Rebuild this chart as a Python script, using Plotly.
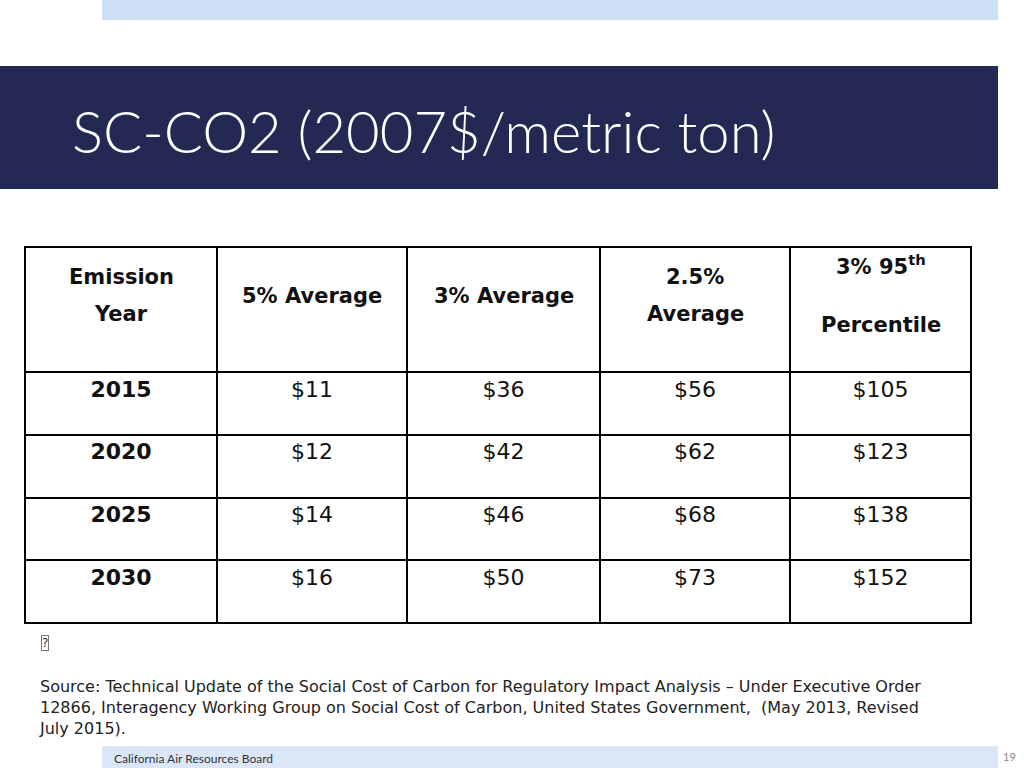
import plotly.graph_objects as go

years = ["2015", "2020", "2025", "2030"]
avg_5 = ["$11", "$12", "$14", "$16"]
avg_3 = ["$36", "$42", "$46", "$50"]
avg_25 = ["$56", "$62", "$68", "$73"]
pct95_3 = ["$105", "$123", "$138", "$152"]

headers = [["Emission", "Year"], ["5% Average"], ["3% Average"], ["2.5%", "Average"],
           ["3% 95<sup>th</sup>", "Percentile"]]
col_widths = [192, 190, 193, 190, 181]

title = "SC-CO2 (2007$/metric ton)"
source_lines = [
    "Source: Technical Update of the Social Cost of Carbon for Regulatory Impact Analysis \u2013 Under Executive Order",
    "12866, Interagency Working Group on Social Cost of Carbon, United States Government,  (May 2013, Revised",
    "July 2015).",
]
footer = "California Air Resources Board"
page = "19"

W, H = 1024, 768
tx0, tx1, ty0, ty1 = 25, 971, 247, 624
head_h, row_h = 125, 62.75

# vertical centres of header lines, measured from the table top
header_line_y = [[30, 67], [49], [49], [30, 67], [18, 78]]

fig = go.Figure()

fig.add_trace(go.Table(
    domain=dict(x=[tx0 / W, tx1 / W], y=[1 - (ty1 + 4) / H, 1 - ty0 / H]),
    columnwidth=col_widths,
    header=dict(values=[""] * 5, height=head_h, fill_color="white",
                line=dict(color="black", width=2)),
    cells=dict(values=[years, avg_5, avg_3, avg_25, pct95_3], height=row_h,
               align="center", fill_color="white",
               line=dict(color="black", width=2),
               font=dict(family="DejaVu Sans", size=22, color="#111111",
                         weight=["bold", "normal", "normal", "normal", "normal"])),
))

fig.update_xaxes(range=[0, W], visible=False, fixedrange=True)
fig.update_yaxes(range=[H, 0], visible=False, fixedrange=True)

# header labels over the header row
scale = (tx1 - tx0) / sum(col_widths)
x = tx0
for lines, ys, w in zip(headers, header_line_y, col_widths):
    for line, yy in zip(lines, ys):
        fig.add_annotation(x=x + w * scale / 2, y=ty0 + yy, xref="x", yref="y",
                           text="<b>%s</b>" % line, showarrow=False,
                           font=dict(family="DejaVu Sans", size=21, color="#111111"),
                           xanchor="center", yanchor="middle")
    x += w * scale

fig.add_shape(type="rect", x0=102, x1=998, y0=0, y1=20, fillcolor="#cddff5", line_width=0, layer="below")
fig.add_shape(type="rect", x0=0, x1=998, y0=66, y1=189, fillcolor="#232953", line_width=0, layer="below")
fig.add_shape(type="rect", x0=102, x1=998, y0=746, y1=768, fillcolor="#dbe7f8", line_width=0, layer="below")

fig.add_annotation(x=70, y=130, xref="x", yref="y", text=title, showarrow=False,
                   xanchor="left", yanchor="middle",
                   font=dict(family="Lato", size=58, color="white", weight=300))
fig.add_annotation(x=45, y=643, xref="x", yref="y", text="?", showarrow=False,
                   font=dict(family="DejaVu Sans", size=12, color="#333333"),
                   bordercolor="#777777", borderwidth=1, borderpad=0)
fig.add_annotation(x=37, y=707, xref="x", yref="y", text="<br>".join(source_lines),
                   showarrow=False, xanchor="left", yanchor="middle", align="left",
                   font=dict(family="DejaVu Sans", size=16, color="#222222"))
fig.add_annotation(x=112, y=758, xref="x", yref="y", text=footer, showarrow=False,
                   xanchor="left", yanchor="middle",
                   font=dict(family="Lato", size=12, color="#333333"))
fig.add_annotation(x=1009, y=756, xref="x", yref="y", text=page, showarrow=False,
                   xanchor="center", yanchor="middle",
                   font=dict(family="Lato", size=11, color="#888888"))

fig.update_layout(width=W, height=H, margin=dict(l=0, r=0, t=0, b=0),
                  paper_bgcolor="white", plot_bgcolor="white", showlegend=False)

fig.write_html("out.html", config={"displayModeBar": False},
               post_script="document.body.style.margin='0';")
